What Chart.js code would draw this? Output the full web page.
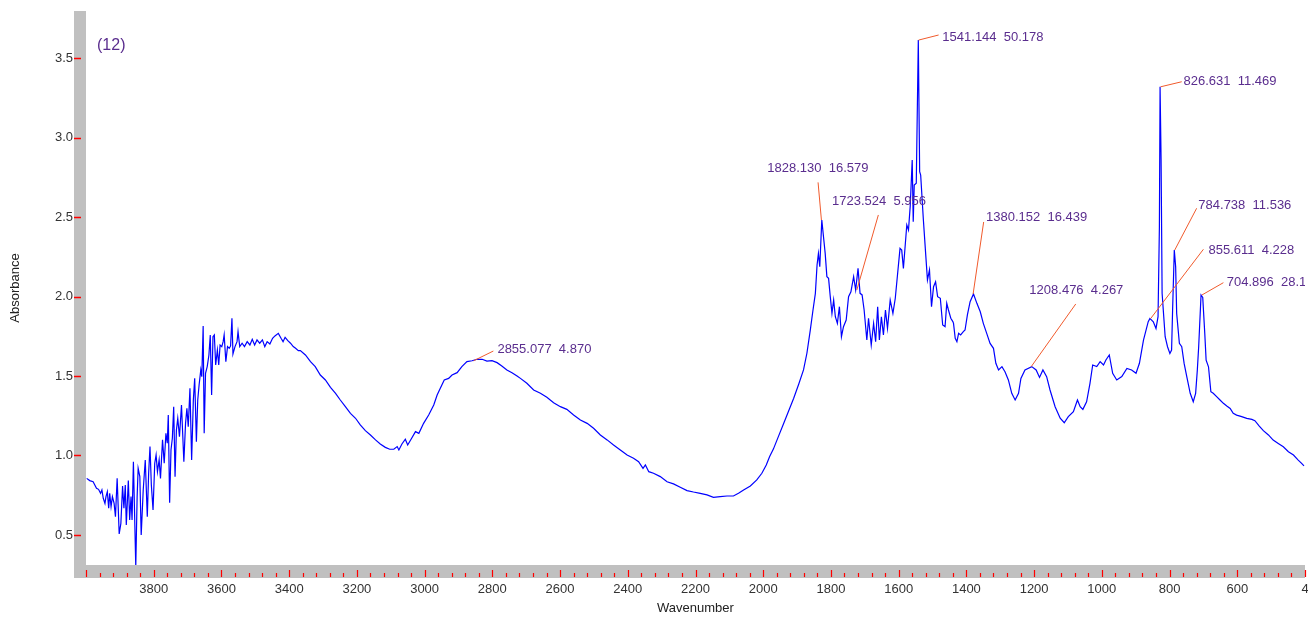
<!DOCTYPE html>
<html>
<head>
<meta charset="utf-8">
<title>Absorbance spectrum (12)</title>
<script src="https://cdn.jsdelivr.net/npm/chart.js@4.4.1/dist/chart.umd.min.js"></script>
<style>
  html, body { margin: 0; padding: 0; background: #fff; }
  #spectrum { display: block; }
</style>
</head>
<body>
<canvas id="spectrum" width="1308" height="617"></canvas>
<script>
// --- spectrum (cm-1, absorbance) ---
const wavenumber = [
  3998, 3989, 3979, 3969, 3963, 3957, 3953, 3949, 3944, 3941, 3937, 3933, 3930, 3926, 3922, 3917,
  3913, 3908, 3902, 3897, 3892, 3888, 3884, 3881, 3875, 3871, 3867, 3864, 3860, 3853, 3849, 3846,
  3841, 3837, 3831, 3825, 3819, 3815, 3811, 3807, 3802, 3797, 3793, 3789, 3784, 3780, 3774, 3769,
  3764, 3760, 3757, 3753, 3749, 3745, 3741, 3737, 3733, 3729, 3724, 3718, 3711, 3706, 3702, 3698,
  3693, 3688, 3683, 3679, 3674, 3670, 3666, 3661, 3658, 3654, 3651, 3647, 3642, 3637, 3633, 3629,
  3625, 3621, 3617, 3612, 3608, 3604, 3599, 3595, 3592, 3587, 3582, 3577, 3573, 3569, 3566, 3560,
  3554, 3551, 3546, 3539, 3532, 3524, 3516, 3509, 3502, 3495, 3487, 3479, 3472, 3465, 3457, 3449,
  3442, 3432, 3424, 3418, 3412, 3404, 3396, 3388, 3381, 3373, 3367,
  3352, 3337, 3323, 3308, 3293, 3278, 3263, 3249, 3234, 3219, 3204, 3190, 3175, 3160, 3145, 3131,
  3116, 3103, 3091, 3081, 3076, 3067, 3057, 3050, 3040, 3027, 3017, 3003, 2988, 2973, 2963, 2954,
  2942, 2929, 2919, 2904, 2890, 2875, 2860, 2845, 2830, 2816, 2801, 2786, 2772, 2757, 2742, 2727,
  2717, 2698, 2678, 2658, 2639, 2619, 2599, 2580, 2560, 2540, 2520, 2501, 2481, 2461, 2442, 2422,
  2402, 2383, 2368, 2355, 2348, 2338, 2324, 2304, 2284, 2265, 2245, 2225, 2206, 2186, 2166, 2147,
  2127, 2107, 2088, 2073, 2058, 2038, 2019, 2004, 1991, 1981, 1970, 1955, 1940, 1925, 1910, 1895,
  1881, 1871, 1861, 1853, 1846, 1841, 1837, 1833, 1827, 1822, 1817, 1812, 1807, 1802, 1797, 1792,
  1787, 1781, 1775, 1769, 1763, 1755, 1748, 1741, 1733, 1727, 1720, 1714, 1708, 1702, 1694, 1689,
  1681, 1674, 1668, 1662, 1657, 1651, 1645, 1639, 1633, 1625, 1617, 1610, 1603, 1596, 1591, 1586,
  1581, 1576, 1571, 1566, 1560, 1557, 1554, 1548, 1542, 1538, 1535, 1527, 1521, 1515, 1509, 1503,
  1497, 1491, 1485, 1477, 1470, 1463, 1458, 1453, 1446, 1440, 1438, 1433, 1428, 1423, 1417, 1409,
  1404, 1397, 1389, 1379, 1369, 1359, 1350, 1340, 1330, 1320, 1313, 1305, 1295, 1286, 1276, 1266,
  1256, 1246, 1239, 1227, 1207, 1194, 1184, 1174, 1163, 1153, 1138, 1123, 1111, 1099, 1084, 1072,
  1064, 1056, 1045, 1035, 1027, 1015, 1005, 995, 988, 978, 968, 956, 941, 926, 912, 899,
  889, 877, 863, 858, 848, 840, 834, 830, 828, 825, 822, 813, 806, 799, 794, 791,
  786, 782, 779, 771, 764, 757, 749, 739, 730, 723, 718, 714, 707, 702, 696, 692,
  685, 678, 671, 661, 651, 641, 631, 621, 612, 602, 587, 572, 557, 548, 535, 523,
  508, 494, 479, 464, 449, 434, 420, 410, 403
];
const absorbance = [
  0.856, 0.842, 0.835, 0.794, 0.787, 0.762, 0.783, 0.731, 0.699, 0.741, 0.772, 0.668, 0.762, 0.678, 0.741, 0.699,
  0.615, 0.856, 0.506, 0.573, 0.808, 0.668, 0.814, 0.563, 0.842, 0.594, 0.741, 0.594, 0.961, 0.300, 0.741, 0.919,
  0.867, 0.500, 0.783, 0.972, 0.615, 0.888, 1.056, 0.814, 0.657, 0.951, 1.003, 0.898, 0.972, 0.856, 1.098, 0.951,
  1.140, 1.077, 1.255, 0.703, 1.035, 1.108, 1.307, 0.867, 1.160, 1.234, 1.118, 1.318, 0.961, 1.202, 1.297, 1.181,
  1.422, 0.972, 1.349, 1.485, 1.087, 1.349, 1.443, 1.538, 1.496, 1.814, 1.140, 1.517, 1.559, 1.632, 1.758, 1.381,
  1.747, 1.758, 1.569, 1.664, 1.569, 1.695, 1.685, 1.716, 1.758, 1.590, 1.685, 1.674, 1.689, 1.863, 1.638, 1.685,
  1.716, 1.779, 1.685, 1.706, 1.685, 1.716, 1.695, 1.731, 1.695, 1.727, 1.706, 1.727, 1.685, 1.716, 1.701, 1.737,
  1.752, 1.768, 1.737, 1.716, 1.743, 1.722, 1.706, 1.685, 1.674, 1.659, 1.660,
  1.632, 1.590, 1.559, 1.506, 1.475, 1.429, 1.391, 1.349, 1.307, 1.265, 1.234, 1.192, 1.156, 1.129, 1.098, 1.072,
  1.051, 1.039, 1.039, 1.056, 1.035, 1.072, 1.102, 1.066, 1.102, 1.150, 1.139, 1.202, 1.255, 1.318, 1.380, 1.422,
  1.475, 1.485, 1.506, 1.521, 1.559, 1.590, 1.596, 1.605, 1.605, 1.594, 1.596, 1.584, 1.563, 1.538, 1.521, 1.500,
  1.485, 1.454, 1.412, 1.391, 1.366, 1.332, 1.307, 1.290, 1.255, 1.223, 1.202, 1.171, 1.129, 1.098, 1.066, 1.035,
  1.003, 0.982, 0.961, 0.919, 0.940, 0.898, 0.888, 0.867, 0.835, 0.821, 0.800, 0.779, 0.770, 0.762, 0.752, 0.737,
  0.741, 0.745, 0.745, 0.762, 0.783, 0.808, 0.846, 0.888, 0.940, 0.993, 1.040, 1.120, 1.200, 1.280, 1.360, 1.450,
  1.538, 1.643, 1.789, 1.915, 2.020, 2.198, 2.271, 2.188, 2.481, 2.376, 2.271, 2.125, 2.114, 1.999, 1.894, 1.978,
  1.873, 1.831, 1.936, 1.747, 1.810, 1.852, 1.999, 2.030, 2.125, 2.041, 2.177, 2.020, 2.010, 1.915, 1.726, 1.863,
  1.695, 1.831, 1.716, 1.936, 1.726, 1.873, 1.758, 1.915, 1.800, 1.978, 1.894, 1.989, 2.146, 2.303, 2.292, 2.177,
  2.313, 2.450, 2.418, 2.565, 2.858, 2.471, 2.701, 2.712, 3.613, 2.785, 2.764, 2.481, 2.292, 2.104, 2.167, 1.936,
  2.062, 2.093, 1.999, 1.989, 1.821, 1.810, 1.957, 1.915, 1.863, 1.842, 1.831, 1.737, 1.716, 1.768, 1.758, 1.779,
  1.789, 1.884, 1.967, 2.016, 1.957, 1.904, 1.831, 1.768, 1.705, 1.674, 1.580, 1.538, 1.559, 1.527, 1.475, 1.391,
  1.349, 1.391, 1.485, 1.538, 1.559, 1.538, 1.491, 1.538, 1.496, 1.412, 1.307, 1.234, 1.206, 1.244, 1.276, 1.349,
  1.307, 1.290, 1.338, 1.454, 1.569, 1.559, 1.590, 1.569, 1.601, 1.632, 1.517, 1.475, 1.496, 1.548, 1.538, 1.517,
  1.580, 1.726, 1.842, 1.862, 1.841, 1.799, 1.873, 2.439, 3.319, 2.858, 2.020, 1.747, 1.684, 1.642, 1.663, 1.915,
  2.292, 2.187, 1.894, 1.705, 1.684, 1.579, 1.495, 1.391, 1.338, 1.391, 1.537, 1.684, 2.009, 1.994, 1.768, 1.600,
  1.558, 1.401, 1.391, 1.370, 1.349, 1.328, 1.311, 1.296, 1.265, 1.254, 1.244, 1.233, 1.227, 1.219, 1.185, 1.156,
  1.129, 1.097, 1.076, 1.055, 1.024, 1.003, 0.971, 0.950, 0.934
];

// axis ticks
const yTicks = [0.5, 1.0, 1.5, 2.0, 2.5, 3.0, 3.5];
const xTicks = [4000, 3800, 3600, 3400, 3200, 3000, 2800, 2600, 2400, 2200, 2000, 1800, 1600, 1400, 1200, 1000, 800, 600, 400];

// labelled peaks
const peakWavenumber = [2855.077, 1828.130, 1723.524, 1541.144, 1380.152, 1208.476, 826.631, 784.738, 855.611, 704.896];
const peakText = [
  '2855.077  4.870', '1828.130  16.579', '1723.524  5.956', '1541.144  50.178', '1380.152  16.439',
  '1208.476  4.267', '826.631  11.469', '784.738  11.536', '855.611  4.228', '704.896  28.1'
];
// where each leader line ends and where its text sits (wavenumber, absorbance)
const labelLineEnd = [[2797, 1.657], [1838, 2.718], [1660, 2.513], [1482, 3.645], [1349, 2.469],
                      [1077, 1.953], [764, 3.351], [720, 2.555], [700, 2.297], [641, 2.087]];
const labelTextAt = [[2785, 1.670], [1988, 2.808], [1797, 2.596], [1471, 3.632], [1342, 2.496],
                     [1214, 2.041], [759, 3.351], [715, 2.575], [685, 2.292], [631, 2.087]];

const FONT = "'Liberation Sans', Arial, sans-serif";
const PURPLE = '#5a2d8e';

// nearest measured point to a wavenumber
function absAt(wn) {
  let best = 0;
  wavenumber.forEach((w, i) => { if (Math.abs(w - wn) < Math.abs(wavenumber[best] - wn)) best = i; });
  return absorbance[best];
}

// keep the plot box where the original has it (no label overhang padding)
function fixBox(s, size) {
  if (s.isHorizontal()) s.height = size; else s.width = size;
  s.paddingLeft = s.paddingRight = s.paddingTop = s.paddingBottom = 0;
}

// gray axis bars with red tick marks
const axisBars = {
  id: 'axisBars',
  afterDatasetsDraw(chart) {
    const { ctx, chartArea: a, scales: { x, y } } = chart;
    ctx.save();
    ctx.fillStyle = '#c0c0c0';
    ctx.fillRect(a.left - 12, a.top, 12, a.bottom - a.top + 13);
    ctx.fillRect(a.left - 12, a.bottom, a.right - a.left + 12, 13);

    ctx.strokeStyle = '#ff0000';
    ctx.lineWidth = 1.5;
    ctx.beginPath();
    yTicks.forEach(v => {
      const py = Math.round(y.getPixelForValue(v)) + 0.5;
      ctx.moveTo(a.left - 12, py);
      ctx.lineTo(a.left - 5, py);
    });
    ctx.stroke();

    ctx.lineWidth = 1.2;
    ctx.beginPath();
    for (let wn = x.max; wn >= x.min; wn -= 40) {
      const px = Math.round(x.getPixelForValue(wn)) + 0.5;
      const major = wn % 200 === 0;
      ctx.moveTo(px, a.bottom + (major ? 5 : 8));
      ctx.lineTo(px, a.bottom + 12);
    }
    ctx.stroke();
    ctx.restore();
  }
};

// peak labels with leader lines, and the "(12)" tag
const peakLabels = {
  id: 'peakLabels',
  afterDatasetsDraw(chart) {
    const { ctx, chartArea: a, scales: { x, y } } = chart;
    ctx.save();
    ctx.beginPath();
    ctx.rect(a.left, 0, a.right - a.left, a.bottom);
    ctx.clip();
    ctx.strokeStyle = '#f05a2c';
    ctx.lineWidth = 1;
    peakWavenumber.forEach((wn, i) => {
      ctx.beginPath();
      ctx.moveTo(x.getPixelForValue(wn), y.getPixelForValue(absAt(wn)));
      ctx.lineTo(x.getPixelForValue(labelLineEnd[i][0]), y.getPixelForValue(labelLineEnd[i][1]));
      ctx.stroke();
    });
    ctx.fillStyle = PURPLE;
    ctx.font = '13px ' + FONT;
    ctx.textAlign = 'left';
    ctx.textBaseline = 'middle';
    peakText.forEach((t, i) => {
      ctx.fillText(t, x.getPixelForValue(labelTextAt[i][0]), y.getPixelForValue(labelTextAt[i][1]));
    });
    ctx.font = '16px ' + FONT;
    ctx.fillText('(12)', a.left + 11, a.top + 35);
    ctx.restore();
  }
};

new Chart(document.getElementById('spectrum'), {
  type: 'line',
  data: {
    datasets: [{
      data: wavenumber.map((w, i) => ({ x: w, y: absorbance[i] })),
      borderColor: '#0000ff',
      borderWidth: 1.2,
      pointRadius: 0,
      tension: 0,
      fill: false
    }]
  },
  options: {
    responsive: false,
    animation: false,
    layout: { padding: { top: 11, right: 3, bottom: 0, left: 0 } },
    plugins: { legend: { display: false }, tooltip: { enabled: false } },
    scales: {
      x: {
        type: 'linear',
        reverse: true,
        min: 400,
        max: 4000,
        afterFit: s => fixBox(s, 52),
        afterBuildTicks: s => { s.ticks = xTicks.map(v => ({ value: v })); },
        grid: { display: false, drawTicks: false },
        border: { display: false },
        ticks: {
          autoSkip: false,
          maxRotation: 0,
          padding: 17,
          color: '#333',
          font: { family: FONT, size: 13 },
          callback: v => v === 4000 ? '' : v === 400 ? '4' : String(v)
        },
        title: {
          display: true,
          text: 'Wavenumber',
          color: '#222',
          font: { family: FONT, size: 13 },
          padding: { top: 0, bottom: 1 }
        }
      },
      y: {
        type: 'linear',
        min: 0.311,
        max: 3.796,
        afterFit: s => fixBox(s, 86),
        afterBuildTicks: s => { s.ticks = yTicks.map(v => ({ value: v })); },
        grid: { display: false, drawTicks: false },
        border: { display: false },
        ticks: {
          padding: 13,
          color: '#333',
          font: { family: FONT, size: 13 },
          callback: v => v.toFixed(1)
        },
        title: {
          display: true,
          text: 'Absorbance',
          color: '#222',
          font: { family: FONT, size: 13 },
          padding: { top: 8, bottom: 0 }
        }
      }
    }
  },
  plugins: [axisBars, peakLabels]
});
</script>
</body>
</html>
